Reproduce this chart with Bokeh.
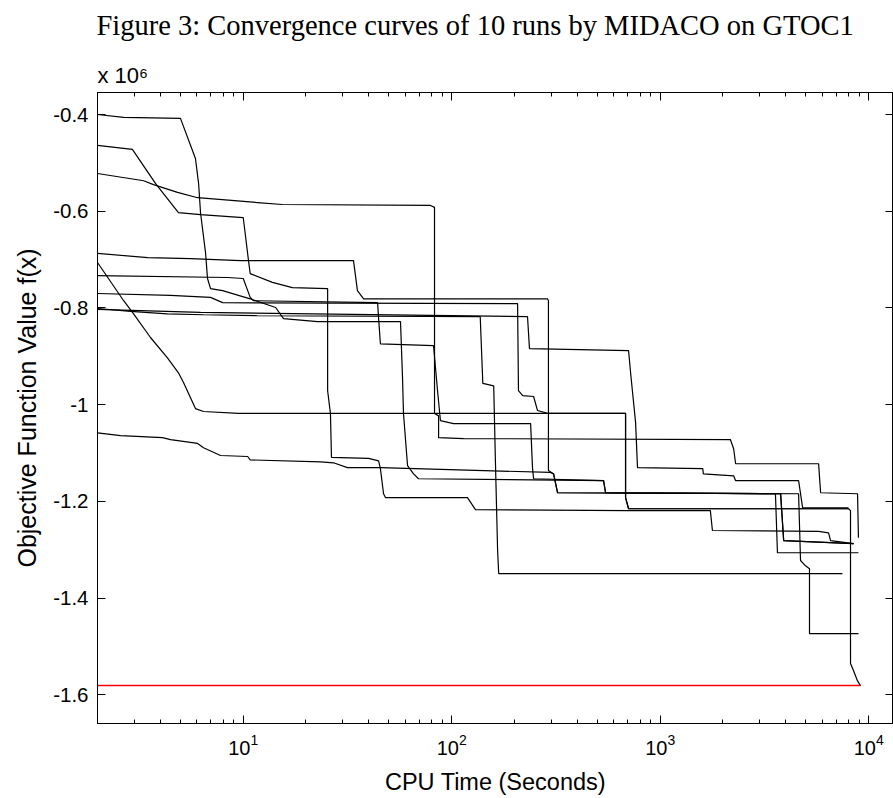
from bokeh.plotting import figure
from bokeh.models import LogAxis, LinearAxis, FixedTicker, LogTicker, Range1d, Title
from bokeh.embed import file_html
from bokeh.resources import INLINE

# ---- data (CPU time in seconds, objective value in units of 1e6) ----
run1_t = [2.0, 2.67, 5.0, 5.90, 6.11, 6.24, 6.60, 6.74, 6.97, 7.96, 10.8, 14.3, 15.6, 22.7, 56.8, 58.1, 58.7, 61.4, 65.6, 69.3, 535, 547, 3570, 3650, 8930]
run1_f = [-0.400, -0.406, -0.408, -0.491, -0.543, -0.603, -0.687, -0.739, -0.760, -0.764, -0.781, -0.799, -0.822, -0.828, -0.828, -0.946, -1.018, -1.126, -1.143, -1.153, -1.157, -1.182, -1.184, -1.306, -1.306]

run2_t = [2.0, 2.94, 3.80, 4.89, 6.24, 10.0, 10.6, 10.8, 13.8, 17.2, 25.4, 25.4, 26.2, 26.5, 39.9, 44.6, 45.5, 47.1, 48.1, 119, 130, 705, 1740, 1780, 5750, 6420, 6560, 8460]
run2_f = [-0.464, -0.472, -0.543, -0.603, -0.607, -0.613, -0.702, -0.729, -0.747, -0.758, -0.760, -0.971, -1.018, -1.109, -1.111, -1.116, -1.132, -1.184, -1.192, -1.192, -1.217, -1.219, -1.219, -1.260, -1.262, -1.265, -1.281, -1.287]

run3_t = [2.0, 3.33, 3.71, 4.84, 6.04, 11.7, 15.4, 79.1, 82.7, 82.7, 86.5, 86.5, 114, 2170, 2250, 2300, 5750, 5880, 8840, 8930]
run3_f = [-0.522, -0.537, -0.545, -0.561, -0.572, -0.582, -0.586, -0.588, -0.592, -1.018, -1.023, -1.068, -1.070, -1.072, -1.091, -1.122, -1.122, -1.182, -1.184, -1.275]

run4_t = [2.0, 3.48, 5.59, 9.70, 33.8, 35.3, 37.8, 288, 291, 291, 308, 322, 3780, 3910, 8460]
run4_f = [-0.687, -0.696, -0.698, -0.702, -0.702, -0.764, -0.781, -0.781, -0.785, -1.136, -1.143, -1.182, -1.184, -1.281, -1.287]

run5_t = [2.0, 2.67, 2.98, 3.59, 4.33, 4.89, 5.17, 5.90, 6.45, 9.49, 682, 682, 705, 8000, 8180, 8180, 8460, 8840, 9140]
run5_f = [-0.706, -0.785, -0.812, -0.861, -0.903, -0.934, -0.954, -1.008, -1.014, -1.018, -1.018, -1.192, -1.215, -1.215, -1.219, -1.535, -1.550, -1.571, -1.581]

run6_t = [2.0, 8.41, 10.0, 10.8, 11.2, 44.1, 44.6, 45.5, 81.8, 85.5, 88.3, 102, 239, 244, 247, 535, 547, 4610, 4710, 4980, 5200, 5200, 8930]
run6_f = [-0.733, -0.737, -0.739, -0.778, -0.785, -0.789, -0.822, -0.874, -0.878, -0.971, -1.033, -1.039, -1.039, -1.130, -1.153, -1.157, -1.182, -1.184, -1.322, -1.333, -1.339, -1.473, -1.473]

run7_t = [2.0, 4.48, 6.97, 7.96, 207, 209, 219, 247, 258, 288, 682, 682, 705, 8000]
run7_f = [-0.770, -0.774, -0.778, -0.789, -0.791, -0.971, -0.981, -0.983, -1.012, -1.018, -1.018, -1.192, -1.215, -1.215]

run8_t = [2.0, 2.88, 4.33, 6.45, 11.7, 137, 141, 159, 162, 166, 168, 7480]
run8_f = [-0.801, -0.807, -0.812, -0.814, -0.816, -0.818, -0.956, -0.961, -1.116, -1.302, -1.349, -1.349]

run9_t = [2.0, 6.24, 231, 236, 705, 721, 762, 778, 1600, 1610, 2250, 2300, 4610, 4820, 8000]
run9_f = [-0.803, -0.809, -0.818, -0.884, -0.888, -0.934, -1.037, -1.130, -1.132, -1.143, -1.147, -1.157, -1.157, -1.213, -1.213]

run10_t = [2.0, 2.58, 4.10, 4.48, 6.04, 6.45, 7.78, 10.5, 10.8, 23.5, 27.1, 31.6, 45.5, 298, 308, 322, 3780, 3910, 8460]
run10_f = [-1.058, -1.064, -1.068, -1.072, -1.080, -1.089, -1.105, -1.107, -1.114, -1.118, -1.120, -1.130, -1.130, -1.140, -1.143, -1.182, -1.184, -1.281, -1.287]

best_t = [2.0, 9140]
best_f = [-1.5806, -1.5806]

y_ticks = [-1.6, -1.4, -1.2, -1.0, -0.8, -0.6, -0.4]
y_tick_labels = ["-1.6", "-1.4", "-1.2", "-1", "-0.8", "-0.6", "-0.4"]

title_text = "Figure 3: Convergence curves of 10 runs by MIDACO on GTOC1"
scale_note = "x 10\u2076"
x_label = "CPU Time (Seconds)"
y_label = "Objective Function Value f(x)"

runs = [(run1_t, run1_f), (run2_t, run2_f), (run3_t, run3_f), (run4_t, run4_f), (run5_t, run5_f),
        (run6_t, run6_f), (run7_t, run7_f), (run8_t, run8_f), (run9_t, run9_f), (run10_t, run10_f)]

SANS = "Liberation Sans"
INK = "black"

p = figure(width=893, height=798, x_axis_type="log",
           x_range=Range1d(2.0, 13150), y_range=Range1d(-1.659, -0.3545),
           output_backend="svg", toolbar_location=None,
           min_border_left=97, min_border_right=0, min_border_top=92, min_border_bottom=75)
p.grid.visible = False
p.outline_line_color = INK
p.outline_line_width = 1
p.background_fill_color = "white"
p.border_fill_color = "white"

for t, f in runs:
    p.line(t, f, line_color=INK, line_width=1.2)
p.line(best_t, best_f, line_color="#ff0000", line_width=1.5)

# bottom axis
xa = p.xaxis[0]
xa.ticker = LogTicker(num_minor_ticks=10)
xa.axis_label = x_label
xa.axis_label_text_font = SANS
xa.axis_label_text_font_style = "normal"
xa.axis_label_text_font_size = "23.5px"
xa.axis_label_text_color = INK
xa.axis_label_standoff = 11
xa.major_label_text_font = SANS
xa.major_label_text_font_size = "20px"
xa.major_label_text_color = INK
xa.major_label_standoff = 10
xa.major_tick_in = 8
xa.major_tick_out = 0
xa.minor_tick_in = 4
xa.minor_tick_out = 0
xa.axis_line_color = INK
xa.major_tick_line_color = INK
xa.minor_tick_line_color = INK

ya = p.yaxis[0]
ya.ticker = FixedTicker(ticks=y_ticks)
ya.major_label_overrides = {tk: lb for tk, lb in zip(y_ticks, y_tick_labels)}
ya.axis_label = y_label
ya.axis_label_text_font = SANS
ya.axis_label_text_font_style = "normal"
ya.axis_label_text_font_size = "25px"
ya.axis_label_text_color = INK
ya.axis_label_standoff = 9
ya.major_label_text_font = SANS
ya.major_label_text_font_size = "20.5px"
ya.major_label_text_color = INK
ya.major_label_standoff = 9
ya.major_tick_in = 8
ya.major_tick_out = 0
ya.minor_tick_in = 0
ya.minor_tick_out = 0
ya.axis_line_color = INK
ya.major_tick_line_color = INK

top = LogAxis(ticker=LogTicker(num_minor_ticks=10), major_label_text_font_size="1px",
              major_label_text_alpha=0, major_label_standoff=0, major_tick_in=8, major_tick_out=0,
              minor_tick_in=4, minor_tick_out=0, axis_line_color=INK,
              major_tick_line_color=INK, minor_tick_line_color=INK)
p.add_layout(top, "above")
right = LinearAxis(ticker=FixedTicker(ticks=y_ticks), major_label_text_font_size="1px",
                   major_label_text_alpha=0, major_label_standoff=0, major_tick_in=8, major_tick_out=0,
                   minor_tick_in=0, minor_tick_out=0, axis_line_color=INK, major_tick_line_color=INK)
p.add_layout(right, "right")

# exponent note, spacer, and title (stacked above the plot, nearest first)
p.add_layout(Title(text=scale_note, align="left", offset=0, standoff=9,
                   text_font=SANS, text_font_size="22px", text_font_style="normal",
                   text_color=INK), "above")
p.add_layout(Title(text=" ", align="left", standoff=13, text_font_size="1px"), "above")
p.add_layout(Title(text=title_text, align="left", offset=-1, standoff=0,
                   text_font="Liberation Serif", text_font_size="28.5px", text_font_style="normal",
                   text_color=INK), "above")

open("out.html", "w").write(file_html(p, INLINE))
